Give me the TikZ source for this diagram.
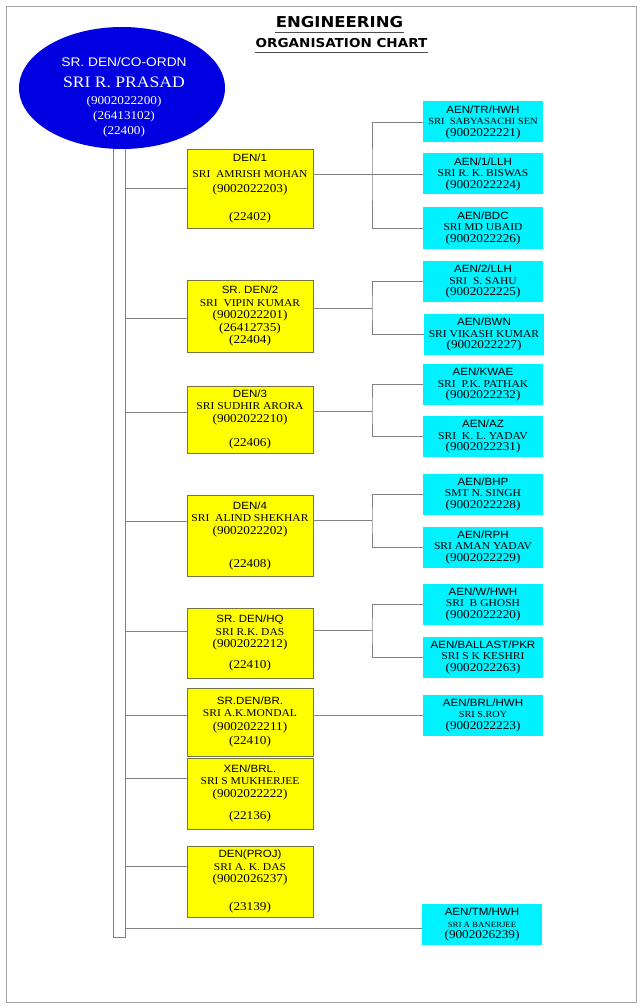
\documentclass[tikz,border=0pt]{standalone}
\usepackage{fontspec}
\setmainfont{Liberation Serif}[FakeStretch=1.1]
\setsansfont{Liberation Sans}[FakeStretch=1.1]
\newfontfamily\headfont{DejaVu Sans}[FakeStretch=1.1]
\usetikzlibrary{shapes.geometric}

\definecolor{bossblue}{RGB}{0,0,225}
\definecolor{denyellow}{RGB}{255,255,0}
\definecolor{aencyan}{RGB}{0,242,255}
\definecolor{boxedge}{RGB}{115,115,70}
\definecolor{linkgray}{RGB}{128,128,128}
\definecolor{framegray}{RGB}{165,165,165}

\newcommand\desg[1]{{\sffamily #1}}
\newcommand\tel[1]{{\fontsize{12}{12.5}\selectfont #1}}

\tikzset{
  den/.style={draw=boxedge, fill=denyellow, minimum width=126pt, inner sep=1pt, align=center},
  aen/.style={fill=aencyan, minimum width=120pt, minimum height=41pt, inner sep=1pt, align=center,
    font=\fontsize{10.5}{11.5}\selectfont},
  link/.style={draw=linkgray, line width=0.8pt},
}

\begin{document}
\begin{tikzpicture}[x=1pt, y=-1pt, font=\fontsize{10.5}{12.5}\selectfont]
  \useasboundingbox (0,0) rectangle (642,1008);
  \draw[framegray, line width=0.8pt] (6,6) rectangle (636,1002);

  % heading
  \node[font=\headfont\bfseries\fontsize{15}{18}\selectfont, inner xsep=1pt, inner ysep=5pt] (title) at (339.5,22) {ENGINEERING};
  \draw[black!70, line width=0.8pt] (title.south west) -- (title.south east);
  \node[font=\headfont\bfseries\fontsize{12.3}{14}\selectfont, inner xsep=1pt, inner ysep=4.7pt] (subtitle) at (341.5,43) {ORGANISATION CHART};
  \draw[black!70, line width=0.8pt] (subtitle.south west) -- (subtitle.south east);

  % head of the unit
  \node[ellipse, fill=bossblue, minimum width=206pt, minimum height=122pt, inner sep=0] (boss) at (122,88) {};
  \node[text=white, align=center, font=\fontsize{12}{15}\selectfont] (bosstext) at (124,97)
    {{\sffamily\fontsize{12.5}{14}\selectfont SR. DEN/CO-ORDN}\\[6pt]
     {\fontsize{16}{17}\selectfont SRI R. PRASAD}\\[2pt]
     (9002022200)\\ (26413102)\\ (22400)};

  % trunk
  \draw[link] ([xshift=-9pt]boss.south) -- ++(0,788) -- ++(12,0) -- ([xshift=3pt]boss.south);

  % DENs
  \node[den, minimum height=79pt] (den1) at (250,188.5)
    {\desg{DEN/1}\\[3pt] SRI\ \ AMRISH MOHAN\\[3pt] \tel{(9002022203)}\\[15pt] \tel{(22402)}};
  \node[den, minimum height=72pt] (den2) at (250,316)
    {\desg{SR. DEN/2}\\ SRI\ \ VIPIN KUMAR\\ \tel{(9002022201)}\\ \tel{(26412735)}\\ \tel{(22404)}};
  \node[den, minimum height=67pt] (den3) at (250,419.5)
    {\desg{DEN/3}\\ SRI SUDHIR ARORA\\ \tel{(9002022210)}\\[12pt] \tel{(22406)}};
  \node[den, minimum height=81pt] (den4) at (250,535.5)
    {\desg{DEN/4}\\ SRI\ \ ALIND SHEKHAR\\ \tel{(9002022202)}\\[20.5pt] \tel{(22408)}};
  \node[den, minimum height=70pt] (denhq) at (250,643)
    {\desg{SR. DEN/HQ}\\ SRI R.K. DAS\\ \tel{(9002022212)}\\[8.5pt] \tel{(22410)}};
  \node[den, minimum height=68pt] (denbr) at (250,722)
    {\desg{SR.DEN/BR.}\\ SRI A.K.MONDAL\\[1.5pt] \tel{(9002022211)}\\[1.5pt] \tel{(22410)}};
  \node[den, minimum height=71pt] (xenbrl) at (250,793.5)
    {\desg{XEN/BRL.}\\ SRI S MUKHERJEE\\ \tel{(9002022222)}\\[10pt] \tel{(22136)}};
  \node[den, minimum height=71pt] (denproj) at (250,881.5)
    {\desg{DEN(PROJ)}\\ SRI A. K. DAS\\ \tel{(9002026237)}\\[15pt] \tel{(23139)}};

  % AENs
  \node[aen] (aentr) at (483,122)
    {\desg{AEN/TR/HWH}\\ {\fontsize{9.5}{11.5}\selectfont SRI\ \ SABYASACHI SEN}\\ \tel{(9002022221)}};
  \node[aen] (aen1llh) at (483,174)
    {\desg{AEN/1/LLH}\\ SRI R. K. BISWAS\\ \tel{(9002022224)}};
  \node[aen] (aenbdc) at (483,228)
    {\desg{AEN/BDC}\\ SRI MD UBAID\\ \tel{(9002022226)}};
  \node[aen] (aen2llh) at (483,281.5)
    {\desg{AEN/2/LLH}\\ SRI\ \ S. SAHU\\ \tel{(9002022225)}};
  \node[aen] (aenbwn) at (484,334.5)
    {\desg{AEN/BWN}\\ SRI VIKASH KUMAR\\ \tel{(9002022227)}};
  \node[aen] (aenkwae) at (483,384.5)
    {\desg{AEN/KWAE}\\ SRI\ \ P.K. PATHAK\\ \tel{(9002022232)}};
  \node[aen] (aenaz) at (483,436.5)
    {\desg{AEN/AZ}\\ SRI\ \ K. L. YADAV\\ \tel{(9002022231)}};
  \node[aen] (aenbhp) at (483,494)
    {\desg{AEN/BHP}\\ SMT N. SINGH\\ \tel{(9002022228)}};
  \node[aen] (aenrph) at (483,547)
    {\desg{AEN/RPH}\\ SRI AMAN YADAV\\ \tel{(9002022229)}};
  \node[aen] (aenw) at (483,604)
    {\desg{AEN/W/HWH}\\ SRI\ \ B GHOSH\\ \tel{(9002022220)}};
  \node[aen] (aenballast) at (483,657)
    {\desg{AEN/BALLAST/PKR}\\ SRI S K KESHRI\\ \tel{(9002022263)}};
  \node[aen] (aenbrl) at (483,715)
    {\desg{AEN/BRL/HWH}\\ {\fontsize{9.3}{11.5}\selectfont SRI S.ROY}\\ \tel{(9002022223)}};
  \node[aen] (aentm) at (482,924.5)
    {\desg{AEN/TM/HWH}\\ {\fontsize{8}{11.5}\selectfont SRI A BANERJEE}\\ \tel{(9002026239)}};

  % branch points on the trunk and forks
  \coordinate (b1) at (125,188);
  \coordinate (b2) at (125,318);
  \coordinate (b3) at (125,412);
  \coordinate (b4) at (125,521);
  \coordinate (b5) at (125,631);
  \coordinate (b6) at (125,715);
  \coordinate (b7) at (125,778);
  \coordinate (b8) at (125,866);
  \coordinate (b9) at (125,928);
  \coordinate (f1) at (372,174);
  \coordinate (f2) at (372,308);
  \coordinate (f3) at (372,411);
  \coordinate (f4) at (372,520.5);
  \coordinate (f5) at (372,630.5);

  \draw[link] (b1) -- (b1 -| den1.west);
  \draw[link] (b2) -- (b2 -| den2.west);
  \draw[link] (b3) -- (b3 -| den3.west);
  \draw[link] (b4) -- (b4 -| den4.west);
  \draw[link] (b5) -- (b5 -| denhq.west);
  \draw[link] (b6) -- (b6 -| denbr.west);
  \draw[link] (b7) -- (b7 -| xenbrl.west);
  \draw[link] (b8) -- (b8 -| denproj.west);
  \draw[link] (b9) -- (b9 -| aentm.west);

  \draw[link] (f1 -| den1.east) -- (aen1llh.west);
  \draw[link] (aentr.west) -| (f1) |- (aenbdc.west);
  \draw[link] (f2 -| den2.east) -- (f2);
  \draw[link] (aen2llh.west) -| (f2) |- (aenbwn.west);
  \draw[link] (f3 -| den3.east) -- (f3);
  \draw[link] (aenkwae.west) -| (f3) |- (aenaz.west);
  \draw[link] (f4 -| den4.east) -- (f4);
  \draw[link] (aenbhp.west) -| (f4) |- (aenrph.west);
  \draw[link] (f5 -| denhq.east) -- (f5);
  \draw[link] (aenw.west) -| (f5) |- (aenballast.west);
  \draw[link] (aenbrl.west -| denbr.east) -- (aenbrl.west);
\end{tikzpicture}
\end{document}
